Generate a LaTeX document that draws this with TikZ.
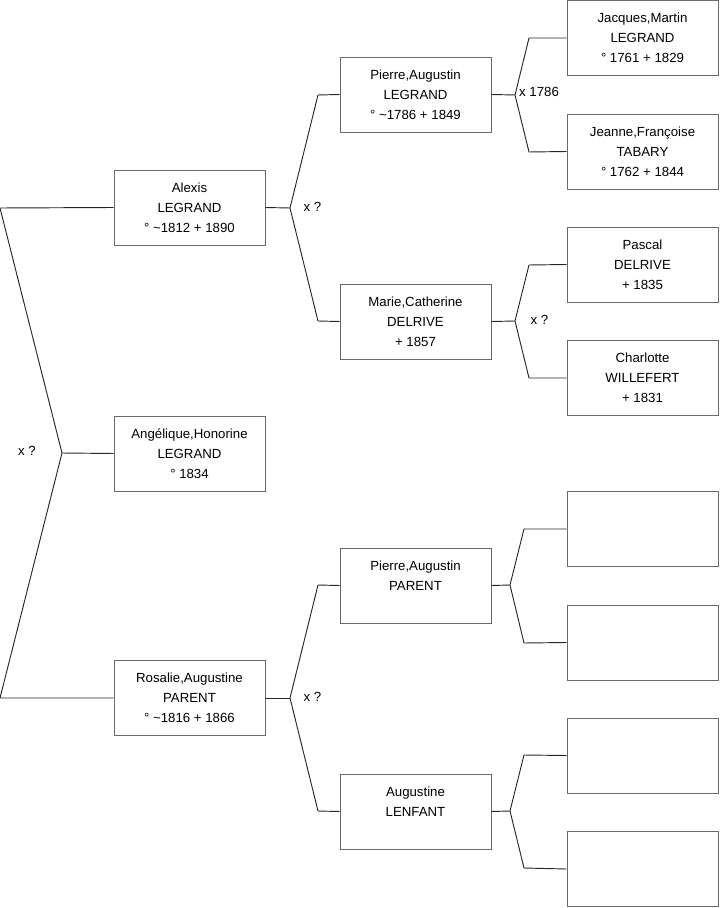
\documentclass[tikz,border=0pt]{standalone}
\usepackage{fontspec}
\setmainfont{Liberation Sans}
\definecolor{boxgray}{HTML}{6A6A6A}
\definecolor{linegray}{HTML}{262626}

\begin{document}
\begin{tikzpicture}[
    x=0.03cm, y=-0.03cm,
    person/.style={draw=boxgray, line width=0.8pt, minimum width=4.53cm,
        minimum height=2.25cm, inner sep=0pt, align=center,
        font=\fontsize{11.3}{17.2}\selectfont},
    mariage/.style={inner sep=0pt, font=\fontsize{11.3}{17.2}\selectfont},
    lien/.style={draw=linegray, line width=0.8pt},
]
\useasboundingbox (0,0) rectangle (719,908);

% Generation 1 : the child
\node[person] (angelique) at (189.5,453.5)
    {Angélique,Honorine\\LEGRAND\\° 1834};

% Generation 2 : parents
\node[person] (alexis) at (189.5,207.5)
    {Alexis\\LEGRAND\\° \textasciitilde1812 + 1890};
\node[person] (rosalie) at (189.5,698)
    {Rosalie,Augustine\\PARENT\\° \textasciitilde1816 + 1866};

% Generation 3 : grand-parents
\node[person] (pierreL) at (415.5,94.5)
    {Pierre,Augustin\\LEGRAND\\° \textasciitilde1786 + 1849};
\node[person] (marie) at (415.5,321.5)
    {Marie,Catherine\\DELRIVE\\+ 1857};
\node[person] (pierreP) at (415.5,585.5)
    {Pierre,Augustin\\PARENT\\\mbox{}};
\node[person] (augustine) at (415.5,811.5)
    {Augustine\\LENFANT\\\mbox{}};

% Generation 4 : great-grand-parents
\node[person] (jacques) at (642.5,38)
    {Jacques,Martin\\LEGRAND\\° 1761 + 1829};
\node[person] (jeanne) at (642.5,151.5)
    {Jeanne,Françoise\\TABARY\\° 1762 + 1844};
\node[person] (pascal) at (642.5,264.5)
    {Pascal\\DELRIVE\\+ 1835};
\node[person] (charlotte) at (642.5,378)
    {Charlotte\\WILLEFERT\\+ 1831};
\node[person] (vide1) at (642.5,529) {};
\node[person] (vide2) at (642.5,642.5) {};
\node[person] (vide3) at (642.5,755.5) {};
\node[person] (vide4) at (642.5,869) {};

% Fork points
\coordinate (racine) at (62,453);
\coordinate (racineH) at (0,208);
\coordinate (racineB) at (0,698);

\coordinate (fAlexis) at (290,208);
\coordinate (fAlexisH) at (318,95);
\coordinate (fAlexisB) at (318,321);

\coordinate (fRosalie) at (290,698);
\coordinate (fRosalieH) at (318,585);
\coordinate (fRosalieB) at (318,811);

\coordinate (fPierreL) at (515,95);
\coordinate (fPierreLH) at (529,38);
\coordinate (fPierreLB) at (529,152);

\coordinate (fMarie) at (515,321);
\coordinate (fMarieH) at (529,265);
\coordinate (fMarieB) at (529,378);

\coordinate (fPierreP) at (510,585);
\coordinate (fPierrePH) at (524,529);
\coordinate (fPierrePB) at (524,643);

\coordinate (fAugustine) at (510,811);
\coordinate (fAugustineH) at (524,755);
\coordinate (fAugustineB) at (524,868);

% Connectors
\draw[lien] (alexis.west) -- (racineH) -- (racine) -- (racineB) -- (rosalie.west);
\draw[lien] (racine) -- (angelique.west);

\draw[lien] (alexis.east) -- (fAlexis);
\draw[lien] (pierreL.west) -- (fAlexisH) -- (fAlexis) -- (fAlexisB) -- (marie.west);

\draw[lien] (rosalie.east) -- (fRosalie);
\draw[lien] (pierreP.west) -- (fRosalieH) -- (fRosalie) -- (fRosalieB) -- (augustine.west);

\draw[lien] (pierreL.east) -- (fPierreL);
\draw[lien] (jacques.west) -- (fPierreLH) -- (fPierreL) -- (fPierreLB) -- (jeanne.west);

\draw[lien] (marie.east) -- (fMarie);
\draw[lien] (pascal.west) -- (fMarieH) -- (fMarie) -- (fMarieB) -- (charlotte.west);

\draw[lien] (pierreP.east) -- (fPierreP);
\draw[lien] (vide1.west) -- (fPierrePH) -- (fPierreP) -- (fPierrePB) -- (vide2.west);

\draw[lien] (augustine.east) -- (fAugustine);
\draw[lien] (vide3.west) -- (fAugustineH) -- (fAugustine) -- (fAugustineB) -- (vide4.west);

% Marriages
\node[mariage] (mRacine) at (27,451) {x ?};
\node[mariage] (mAlexis) at (312.5,207) {x ?};
\node[mariage] (mRosalie) at (312.5,697) {x ?};
\node[mariage] (mPierreL) at (539,92) {x 1786};
\node[mariage] (mMarie) at (539.5,320) {x ?};

\end{tikzpicture}
\end{document}
